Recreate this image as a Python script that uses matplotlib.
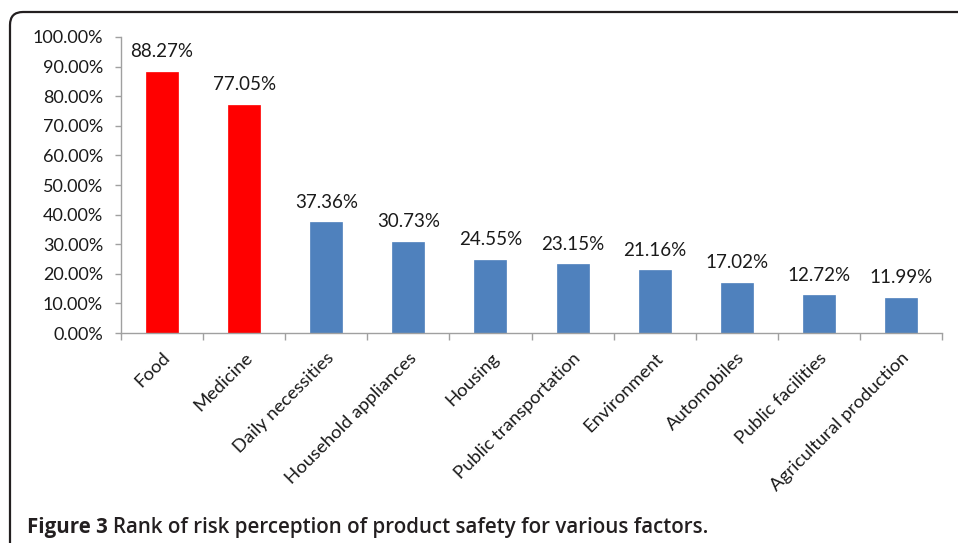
import numpy as np
import matplotlib
matplotlib.use("Agg")
import matplotlib.pyplot as plt
from matplotlib.patches import FancyBboxPatch
from matplotlib.ticker import FuncFormatter, FixedLocator

# data
categories = ["Food", "Medicine", "Daily necessities", "Household appliances", "Housing",
              "Public transportation", "Environment", "Automobiles", "Public facilities",
              "Agricultural production"]
values = [0.8827, 0.7705, 0.3736, 0.3073, 0.2455, 0.2315, 0.2116, 0.1702, 0.1272, 0.1199]
bar_colors = ["#FF0000", "#FF0000"] + ["#4F81BD"] * 8

plt.rcParams["font.family"] = ["Lato", "DejaVu Sans"]

fig = plt.figure(figsize=(9.58, 5.43), dpi=100)
ax = fig.add_axes([121 / 958, 1 - 333 / 543, (942 - 121) / 958, (333 - 37) / 543])

x = np.arange(len(categories))
ax.bar(x, values, width=0.39, color=bar_colors, edgecolor=bar_colors, linewidth=0.5)

for xi, v in zip(x, values):
    ax.text(xi, v + 0.04, f"{v * 100:.2f}%", ha="center", va="bottom", fontsize=13.5, color="#1a1a1a")

ax.set_xlim(-0.5, len(categories) - 0.5)
ax.set_ylim(0, 1.0)
ax.set_yticks(np.arange(0, 1.01, 0.1))
ax.yaxis.set_major_formatter(FuncFormatter(lambda v, p: f"{v * 100:.2f}%"))

ax.set_xticks(x)
ax.set_xticklabels(categories, rotation=45, ha="right", rotation_mode="anchor", fontsize=13.3)
ax.xaxis.set_minor_locator(FixedLocator(np.arange(-0.5, len(categories), 1.0)))
ax.tick_params(axis="x", which="major", length=0, pad=12, colors="#1a1a1a")
ax.tick_params(axis="x", which="minor", length=5, color="#a0a0a0", width=1)
ax.tick_params(axis="y", length=4, color="#a0a0a0", width=1, labelsize=13, labelcolor="#1a1a1a", pad=9)

for s in ["top", "right"]:
    ax.spines[s].set_visible(False)
for s in ["left", "bottom"]:
    ax.spines[s].set_color("#a0a0a0")
    ax.spines[s].set_linewidth(1)

# rounded frame around the figure (open at right/bottom)
frame = FancyBboxPatch((0.10, -1.0), 10.0, 5.31 + 1.0, boxstyle="round,pad=0,rounding_size=0.13",
                       transform=fig.dpi_scale_trans, fill=False, edgecolor="#231f20",
                       linewidth=1.6, clip_on=False)
fig.patches.append(frame)

# caption
t1 = fig.text(27 / 958, 1 - 527 / 543, "Figure 3", fontsize=14.8, fontweight="bold",
              family=["Open Sans", "DejaVu Sans"], va="center", color="#231f20")
fig.canvas.draw()
bb = t1.get_window_extent()
fig.text((bb.x1 + 5) / 958, 1 - 527 / 543, "Rank of risk perception of product safety for various factors.",
         fontsize=14.8, fontweight="semibold", family=["Open Sans", "DejaVu Sans"], va="center", color="#231f20")

fig.savefig("out.png", dpi=100)
